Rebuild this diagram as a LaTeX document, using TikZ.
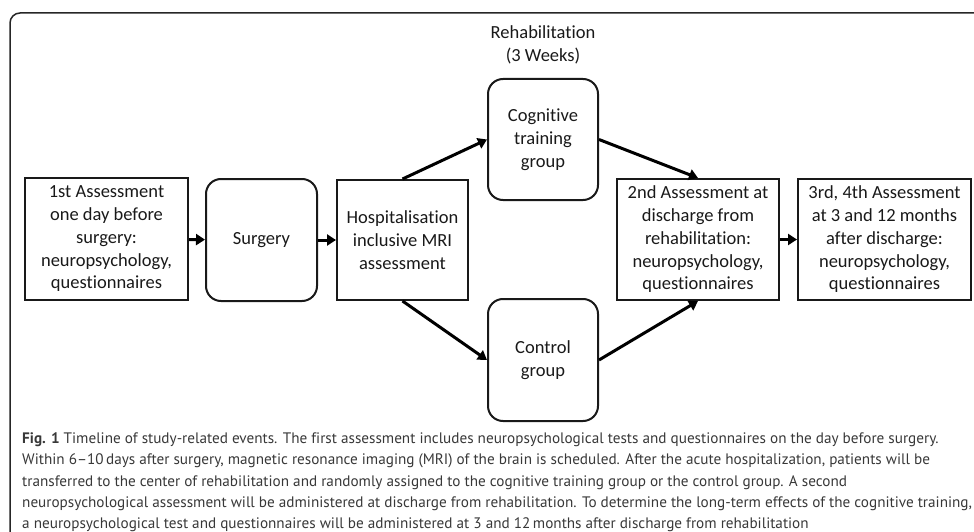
\documentclass[tikz,border=0pt]{standalone}
\usepackage{fontspec}
\setmainfont{Carlito}[Ligatures=NoCommon]
\newfontfamily\capfont{PT Sans}[Ligatures=NoCommon]
\usetikzlibrary{arrows.meta}
\begin{document}
\begin{tikzpicture}[x=1pt,y=-1pt,
  box/.style={draw=black!90,line width=2pt,align=center,inner sep=0pt,
    font=\fontsize{18.5}{22.75}\selectfont,text=black!90},
  sqbox/.style={box},
  rbox/.style={box,rounded corners=15pt},
  arr/.style={draw=black,line width=3pt,-{Triangle[length=9pt,width=11pt]}},
  capline/.style={anchor=base west,inner sep=0pt,font=\capfont\fontsize{15.2}{21.5}\selectfont,text=black!78}]
\useasboundingbox (0,0) rectangle (974,532);
\draw[line width=1.5pt,rounded corners=10pt,black!85] (10,545) -- (10,13) -- (990,13);

\node[sqbox,minimum width=163pt,minimum height=122pt] (a1) at (106.5,239)
  {1st Assessment\\one day before\\surgery:\\neuropsychology,\\questionnaires};
\node[rbox,minimum width=111pt,minimum height=122pt] (surg) at (261.5,240) {Surgery};
\node[sqbox,minimum width=131pt,minimum height=120pt] (hosp) at (402.5,240)
  {Hospitalisation\\inclusive MRI\\assessment};
\node[rbox,minimum width=110pt,minimum height=121pt] (cog) at (543,139.5)
  {Cognitive\\training\\group};
\node[rbox,minimum width=110pt,minimum height=122pt] (ctrl) at (543,360)
  {Control\\group};
\node[sqbox,minimum width=162pt,minimum height=121pt] (a2) at (698,239.5)
  {2nd Assessment at\\discharge from\\rehabilitation:\\neuropsychology,\\questionnaires};
\node[sqbox,minimum width=173pt,minimum height=121pt] (a3) at (884.5,239.5)
  {3rd, 4th Assessment\\at 3 and 12 months\\after discharge:\\neuropsychology,\\questionnaires};
\node[align=center,inner sep=0pt,font=\fontsize{18.5}{22.75}\selectfont,text=black!90] (rehab) at (543,44.5)
  {Rehabilitation\\(3 Weeks)};

\draw[arr] (a1) -- (surg);
\draw[arr] (surg) -- (hosp);
\draw[arr] (hosp.north) -- (cog.west);
\draw[arr] (hosp.south) -- (ctrl.west);
\draw[arr] (cog.east) -- (a2.north);
\draw[arr] (ctrl.east) -- (a2.south);
\draw[arr] (a2) -- (a3);

\node[capline] (c1) at (22,443.7) {\textbf{Fig. 1} Timeline of study-related events. The first assessment includes neuropsychological tests and questionnaires on the day before surgery.};
\node[capline] (c2) at (22,464.9) {Within 6–10\,days after surgery, magnetic resonance imaging (MRI) of the brain is scheduled. After the acute hospitalization, patients will be};
\node[capline] (c3) at (22,486.1) {transferred to the center of rehabilitation and randomly assigned to the cognitive training group or the control group. A second};
\node[capline] (c4) at (22,507.3) {neuropsychological assessment will be administered at discharge from rehabilitation. To determine the long-term effects of the cognitive training,};
\node[capline] (c5) at (22,528.2) {a neuropsychological test and questionnaires will be administered at 3 and 12\,months after discharge from rehabilitation};
\end{tikzpicture}
\end{document}
